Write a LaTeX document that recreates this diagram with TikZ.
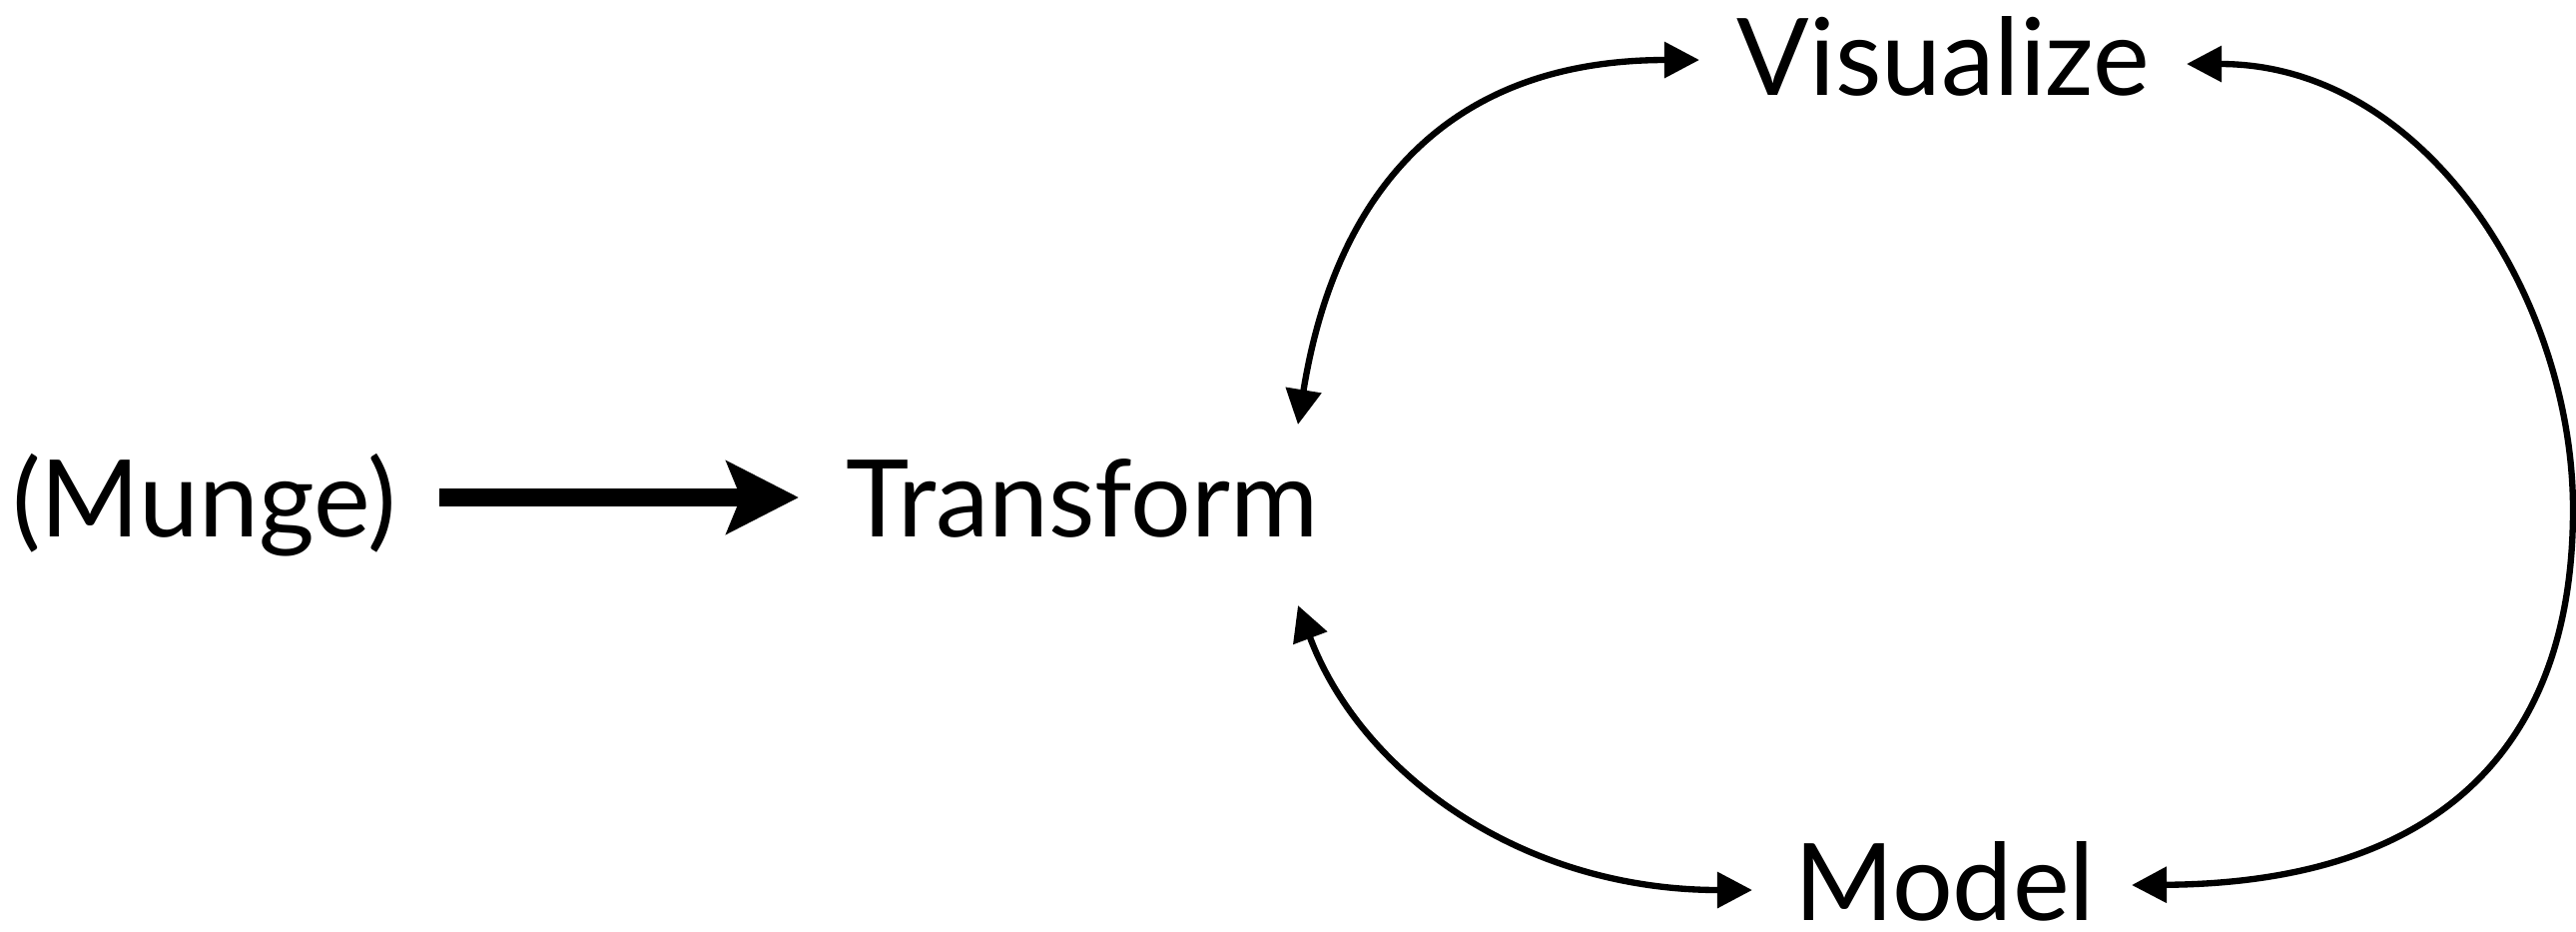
\documentclass[tikz,border=0pt]{standalone}
\usepackage{fontspec}
\setmainfont{Lato}
\usetikzlibrary{arrows.meta}
\begin{document}
\begin{tikzpicture}[x=0.01cm,y=-0.01cm,
  lbl/.style={inner sep=0pt, anchor=base, font=\fontsize{30.5}{33}\selectfont},
  biarrow/.style={line width=1.8pt,
    {Triangle[length=0.35cm,width=0.35cm]}-{Triangle[length=0.35cm,width=0.35cm]}},
  mainarrow/.style={line width=5.1pt,
    -{Stealth[length=0.72cm,width=0.72cm,inset=0.14cm]}}]
\useasboundingbox (0,0) rectangle (2580,932);
\node[lbl] (munge) at (204.5,537) {(Munge)};
\node[lbl] (transform) at (1084,537) {Transform};
\node[lbl] (visualize) at (1946.5,95) {Visualize};
\node[lbl] (model) at (1947.5,921) {Model};
\coordinate (rightmost) at (2577,510);

\draw[mainarrow] ([shift={(235.5,-39)}]munge.base) -- ([shift={(-284,-39)}]transform.base);

\draw[biarrow] ([shift={(216,-112)}]transform.base)
  .. controls (1338,190) and (1452,60) .. ([shift={(-244.5,-35)}]visualize.base);
\draw[biarrow] ([shift={(216,69)}]transform.base)
  .. controls (1363,774) and (1524,891) .. ([shift={(-192.5,-30)}]model.base);
\draw[biarrow] ([shift={(243.5,-31)}]visualize.base)
  .. controls (2430,64) and (2577,300) .. (rightmost)
  .. controls (2577,760) and (2430,884) .. ([shift={(187.5,-35)}]model.base);
\end{tikzpicture}
\end{document}
